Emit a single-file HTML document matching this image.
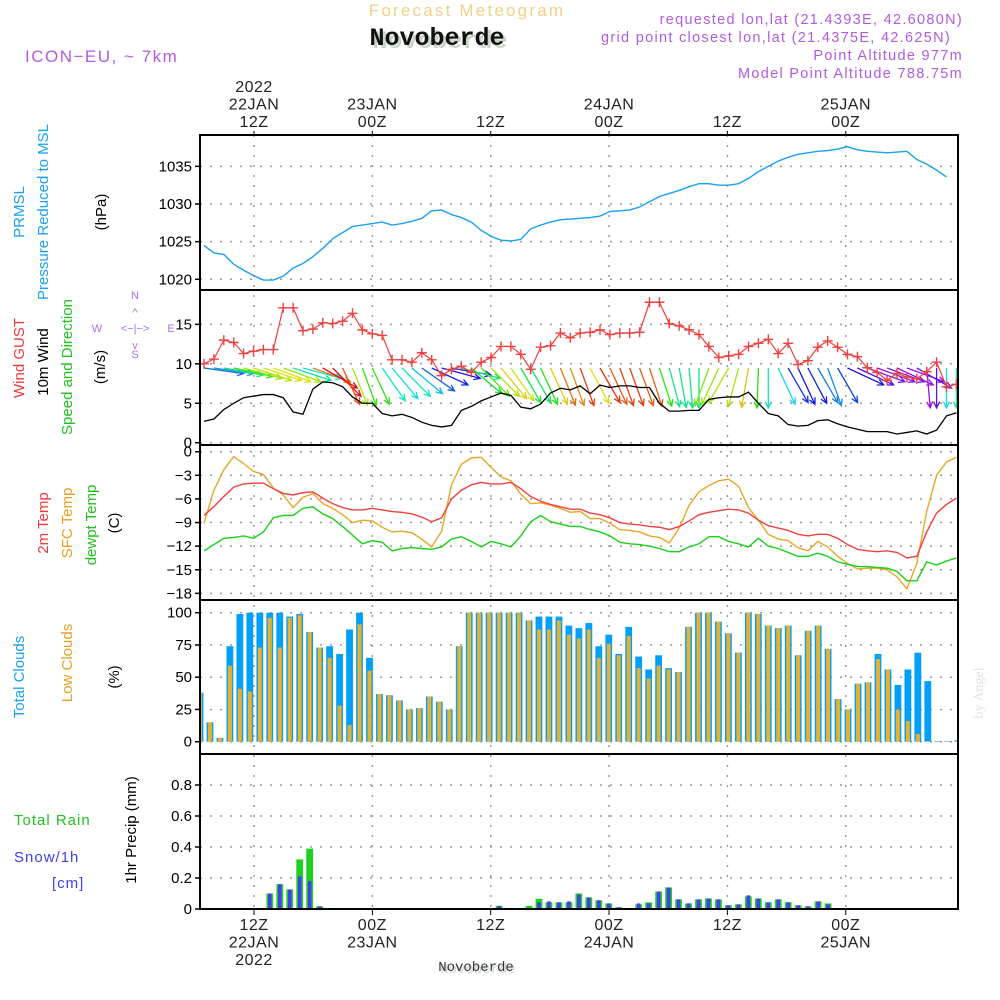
<!DOCTYPE html>
<html><head><meta charset="utf-8">
<style>
html,body{margin:0;padding:0;background:#fff;}
svg{display:block;font-family:"Liberation Sans",sans-serif;}
</style></head>
<body>
<svg id="chart" width="1000" height="1000" viewBox="0 0 1000 1000" xmlns="http://www.w3.org/2000/svg">
<g>
<text x="467" y="16" font-size="17" fill="#f3cf86" text-anchor="middle" letter-spacing="2.2">Forecast Meteogram</text>
<text x="440" y="48" font-size="25" font-weight="bold" fill="#c8d8c8" text-anchor="middle" font-family="Liberation Mono, monospace">Novoberde</text>
<text x="437" y="45" font-size="25" font-weight="bold" fill="#111" text-anchor="middle" font-family="Liberation Mono, monospace">Novoberde</text>
<text x="25" y="62" font-size="17" fill="#b05ce0" letter-spacing="1.5">ICON−EU, ~ 7km</text>
<text x="963" y="24" font-size="14.5" fill="#b05ce0" text-anchor="end" letter-spacing="1.3">requested lon,lat (21.4393E, 42.6080N)</text>
<text x="951" y="42" font-size="14.5" fill="#b05ce0" text-anchor="end" letter-spacing="1.3">grid point closest lon,lat (21.4375E, 42.625N)</text>
<text x="963" y="60" font-size="14.5" fill="#b05ce0" text-anchor="end" letter-spacing="1.3">Point Altitude 977m</text>
<text x="963" y="78" font-size="14.5" fill="#b05ce0" text-anchor="end" letter-spacing="1.3">Model Point Altitude 788.75m</text>
</g>
<g font-size="15">
<text transform="translate(24,212) rotate(-90)" text-anchor="middle" fill="#1aa0f0">PRMSL</text>
<text transform="translate(48,212) rotate(-90)" text-anchor="middle" fill="#1aa0f0">Pressure Reduced to MSL</text>
<text transform="translate(106,212) rotate(-90)" text-anchor="middle" fill="#000">(hPa)</text>
<text transform="translate(24,358) rotate(-90)" text-anchor="middle" fill="#f03a3a">Wind GUST</text>
<text transform="translate(48,362) rotate(-90)" text-anchor="middle" fill="#000">10m Wind</text>
<text transform="translate(72,367) rotate(-90)" text-anchor="middle" fill="#20c020">Speed and Direction</text>
<text transform="translate(105,367) rotate(-90)" text-anchor="middle" fill="#000">(m/s)</text>
<g fill="#b070e0" font-size="11" text-anchor="middle">
<text x="97" y="332">W</text><text x="171" y="332">E</text><text x="135" y="299">N</text><text x="135" y="358">S</text>
<text x="135" y="332">&lt;−|−&gt;</text>
<text x="135" y="316">^</text><text x="135" y="349">v</text>
</g>
<text transform="translate(48,523) rotate(-90)" text-anchor="middle" fill="#f03a3a">2m Temp</text>
<text transform="translate(72,523) rotate(-90)" text-anchor="middle" fill="#e8a020">SFC Temp</text>
<text transform="translate(96,525) rotate(-90)" text-anchor="middle" fill="#20c020">dewpt Temp</text>
<text transform="translate(119,523) rotate(-90)" text-anchor="middle" fill="#000">(C)</text>
<text transform="translate(24,677) rotate(-90)" text-anchor="middle" fill="#1aa0f0">Total Clouds</text>
<text transform="translate(72,663) rotate(-90)" text-anchor="middle" fill="#e8a020">Low Clouds</text>
<text transform="translate(119,677) rotate(-90)" text-anchor="middle" fill="#000">(%)</text>
<text x="14" y="825" fill="#20c020" letter-spacing="1">Total  Rain</text>
<text x="14" y="862" fill="#4040f0" letter-spacing="1">Snow/1h</text>
<text x="52" y="888" fill="#4040f0" letter-spacing="1">[cm]</text>
<text transform="translate(136,830) rotate(-90)" text-anchor="middle" fill="#000">1hr Precip (mm)</text>
</g>
<text transform="translate(983,693) rotate(-90)" text-anchor="middle" font-size="14" fill="#dde4dd" font-family="Liberation Serif, serif">by Angel</text>
<text x="478" y="973" font-size="14" fill="#c8d8c8" text-anchor="middle" font-family="Liberation Mono, monospace">Novoberde</text>
<text x="476" y="971" font-size="14" fill="#333" text-anchor="middle" font-family="Liberation Mono, monospace">Novoberde</text>
<g id="plots"></g>
</svg>
<script>
// ---------- data ----------
const timeTop = [["2022","22JAN","12Z"],["","23JAN","00Z"],["","","12Z"],["","24JAN","00Z"],["","","12Z"],["","25JAN","00Z"]];
const timeBottom = [["12Z","22JAN","2022"],["00Z","23JAN",""],["12Z","",""],["00Z","24JAN",""],["12Z","",""],["00Z","25JAN",""]];
const pressTicks = [1020,1025,1030,1035];
const windTicks = [0,5,10,15];
const tempTicks = [0,-3,-6,-9,-12,-15,-18];
const cloudTicks = [0,25,50,75,100];
const precipTicks = [0,0.2,0.4,0.6,0.8];
const pressure = [1024.5,1023.5,1023.3,1022,1021.2,1020.5,1019.9,1019.9,1020.4,1021.5,1022.1,1023,1024.1,1025.4,1026.2,1027,1027.2,1027.4,1027.6,1027.2,1027.4,1027.7,1028.1,1029.1,1029.2,1028.6,1028.2,1027.6,1026.5,1025.7,1025.2,1025.1,1025.3,1026.7,1027.2,1027.6,1027.9,1028,1028.1,1028.2,1028.4,1029.0,1029.1,1029.2,1029.6,1030.3,1031.0,1031.4,1031.8,1032.3,1032.7,1032.7,1032.5,1032.5,1032.7,1033.4,1034.3,1035,1035.7,1036.2,1036.6,1036.8,1037,1037.1,1037.3,1037.6,1037.2,1037,1036.9,1036.8,1036.9,1037,1035.9,1035.3,1034.5,1033.6];
const gust = [10.0,10.6,13.0,12.7,11.3,11.6,11.8,11.8,17.1,17.1,14.2,14.4,15.2,15.1,15.4,16.4,14.3,13.8,13.6,10.5,10.5,10.2,11.4,10.5,8.5,9.3,9.7,8.9,10.2,10.8,12.2,12.2,11.2,9.3,12.1,12.3,13.9,13.3,13.9,14.0,14.3,13.7,13.9,13.9,14.0,17.8,17.8,15.1,14.8,14.3,13.7,12.2,10.8,11.0,11.2,12.2,12.6,13.1,11.3,12.6,9.9,10.4,12.1,12.9,12.1,11.2,10.9,9.5,8.9,7.9,8.8,8.3,8.1,9.0,10.2,7.1,7.4];
const windSpeed = [2.7,3.0,4.2,5.0,5.7,5.9,6.1,6.1,5.7,3.9,3.6,6.8,7.7,7.6,7.1,5.8,5.0,5.0,3.7,3.4,3.6,3.2,2.6,2.2,2.0,2.2,4.1,4.6,5.3,5.8,6.3,6.0,4.5,4.3,4.9,6.3,6.9,6.7,7.2,6.2,7.3,7.0,7.2,7.2,7.0,7.0,5.0,4.0,4.0,4.1,4.1,5.5,5.7,5.8,5.8,6.4,5.0,3.7,3.4,2.3,2.1,2.2,2.8,2.9,2.4,2.0,1.7,1.4,1.4,1.4,1.1,1.3,1.5,1.1,1.6,3.4,3.8];
const windDir = [8,8,10,12,15,18,18,20,20,18,15,20,30,45,65,68,70,65,55,50,45,40,35,25,15,10,15,40,45,45,50,55,60,60,65,65,68,70,70,62,60,65,70,70,70,72,72,75,80,85,90,110,115,120,105,100,92,90,65,60,65,62,60,70,60,25,25,20,20,20,25,20,30,85,90,90,90];
const temp2m = [-8.1,-7.0,-5.7,-4.5,-4.1,-4.0,-4.0,-4.7,-5.3,-5.5,-5.2,-5.1,-5.9,-6.6,-7.1,-7.4,-7.4,-7.2,-7.4,-7.6,-7.7,-7.9,-8.3,-8.9,-8.4,-6.0,-4.9,-4.2,-3.9,-4.1,-4.1,-3.9,-4.7,-5.7,-6.3,-6.7,-7.0,-7.3,-7.3,-7.8,-8.0,-8.4,-9.0,-9.2,-9.3,-9.5,-9.6,-9.9,-9.5,-8.8,-8.0,-7.7,-7.5,-7.3,-7.4,-7.8,-8.7,-9.4,-9.7,-10.0,-10.5,-10.7,-10.5,-10.5,-11.0,-11.8,-12.4,-12.6,-12.7,-12.6,-12.8,-13.5,-13.3,-10.2,-7.8,-6.7,-5.9];
const tempSfc = [-9.1,-4.9,-2.3,-0.6,-1.5,-2.5,-2.9,-4.6,-5.5,-7.1,-5.8,-5.3,-6.6,-7.2,-8.0,-9.0,-8.7,-8.8,-9.6,-10.2,-10.1,-10.3,-11.1,-12.1,-10.1,-4.2,-1.6,-0.8,-0.7,-2.0,-3.2,-3.7,-5.4,-6.6,-6.5,-6.8,-7.2,-7.7,-7.6,-8.5,-8.5,-9.1,-9.9,-10.0,-10.2,-10.7,-10.9,-11.6,-9.7,-6.8,-5.1,-4.3,-3.7,-3.5,-4.4,-7.1,-8.7,-10.5,-11.1,-11.3,-12.2,-12.6,-11.4,-12.1,-13.3,-14.2,-14.9,-14.8,-14.8,-15.0,-15.9,-17.4,-14.2,-7.6,-3.0,-1.3,-0.7];
const dewpt = [-12.6,-11.8,-11.0,-10.9,-10.7,-11.0,-10.2,-8.4,-8.1,-8.1,-7.2,-7.0,-7.9,-8.5,-9.5,-10.6,-11.7,-11.3,-11.5,-12.6,-12.3,-12.2,-12.3,-12.4,-12.1,-11.1,-10.8,-11.4,-12.1,-11.4,-11.7,-12.1,-10.7,-8.9,-8.1,-8.9,-9.2,-9.5,-9.5,-9.9,-10.2,-10.7,-11.5,-11.7,-11.8,-12.0,-12.3,-12.7,-12.7,-12.1,-11.7,-10.8,-10.8,-11.4,-11.7,-12.1,-11.0,-12.0,-12.3,-12.8,-13.3,-13.3,-12.9,-13.3,-14.0,-14.3,-14.6,-14.6,-14.7,-14.8,-15.2,-16.4,-16.4,-14.0,-14.4,-13.9,-13.5];
const totalClouds = [38,15,3,74,99,100,100,100,100,97,99,85,73,74,68,87,100,65,37,36,32,25,26,35,31,25,74,100,100,100,100,100,100,94,97,97,97,90,88,92,74,83,68,89,66,56,67,57,54,89,100,100,93,84,69,100,99,90,88,90,67,86,90,72,33,25,45,46,68,56,44,56,69,47,0.5,0.5,1];
const lowClouds = [38,15,3,59,41,39,73,96,73,96,98,85,73,65,28,13,91,55,37,36,32,25,26,35,31,25,74,100,100,100,100,100,100,94,87,87,94,83,80,87,65,76,67,82,57,49,59,56,54,89,100,100,93,84,69,100,99,90,88,90,67,86,90,72,33,25,45,46,64,56,25,16,6,0.5,0.5,0.5,0.5];
const totalPrecip = [0,0,0,0,0,0,0,0.10,0.16,0.126,0.32,0.39,0.017,0,0,0,0,0,0,0,0,0,0,0,0,0,0,0,0,0,0.02,0,0,0.02,0.066,0.043,0.043,0.043,0.10,0.075,0.056,0.036,0.011,0.004,0.03,0.043,0.113,0.139,0.062,0.036,0.062,0.068,0.062,0.024,0.03,0.081,0.068,0.043,0.062,0.043,0.024,0.017,0.049,0.036,0.004,0,0,0,0,0,0,0,0,0,0,0,0];
const snowPrecip = [0,0,0,0,0,0,0,0.10,0.16,0.126,0.21,0.18,0.017,0,0,0,0,0,0,0,0,0,0,0,0,0,0,0,0,0,0.02,0,0,0.005,0.043,0.049,0.043,0.049,0.094,0.075,0.056,0.036,0.011,0.004,0.036,0.036,0.113,0.139,0.062,0.036,0.062,0.068,0.062,0.024,0.03,0.088,0.068,0.043,0.062,0.043,0.024,0.017,0.049,0.03,0.004,0,0,0,0,0,0,0,0,0,0,0,0];

// ---------- axes ----------
const X0 = 200, X1 = 958;
const panels = [{top:135,bot:290},{top:290,bot:445},{top:445,bot:600},{top:600,bot:754},{top:754,bot:909}];
const xGrid = k => 254 + k*118.35;
const xLine = i => 204 + i*9.9;
const xBar = i => 200 + i*9.97;
const yPress = p => 204 - (p-1030)*7.53;
const yWind = v => 442.7 - v*7.89;
const yTemp = t => 451.7 - t*7.87;
const yCloud = c => 741.7 - c*1.29;
const yPrecip = m => 909 - m*155;

const NS = "http://www.w3.org/2000/svg";
const root = document.getElementById('plots');
function mk(tag, attrs, parent){ const e=document.createElementNS(NS,tag); for(const k in attrs) e.setAttribute(k,attrs[k]); (parent||root).appendChild(e); return e; }

// clip
const defs = mk('defs',{});
const cp = mk('clipPath',{id:'plotclip'},defs);
mk('rect',{x:X0,y:135,width:X1-X0,height:774},cp);

// grid
const grid = mk('g',{stroke:'#9a9a9a','stroke-width':1.5,'stroke-dasharray':'2 8'});


for(let k=0;k<timeTop.length;k++){ const l=mk('line',{x1:xGrid(k),x2:xGrid(k),y1:135,y2:909},grid); }
function hgrid(ticks, fy, name, fmt, pTop, pBot){
  const g = mk('g',{});
  
  
  ticks.forEach(t=>{
    const y = fy(t);
    mk('line',{x1:X0,x2:X1,y1:y,y2:y,stroke:'#9a9a9a','stroke-width':1.5,'stroke-dasharray':'2 8'},g);
    mk('line',{x1:X0-5,x2:X0,y1:y,y2:y,stroke:'#000','stroke-width':1.5},g);
    const tx = mk('text',{x:X0-8,y:y+5,'font-size':15,'text-anchor':'end',fill:'#000'},g);
    tx.textContent = fmt(t);
  });
}
hgrid(pressTicks, yPress, 'pressure-y-axis', t=>String(t));
hgrid(windTicks, yWind, 'wind-y-axis', t=>String(t));
hgrid(tempTicks, yTemp, 'temp-y-axis', t=>t<0?'−'+(-t):String(t));
hgrid(cloudTicks, yCloud, 'cloud-y-axis', t=>String(t));
hgrid(precipTicks, yPrecip, 'precip-y-axis', t=>t===0?'0':t.toFixed(1));

// time labels
const tl = mk('g',{'font-size':16,'text-anchor':'middle',fill:'#222','letter-spacing':'0.5'});


timeTop.forEach((arr,k)=>{
  arr.forEach((s,j)=>{ if(s){ const t=mk('text',{x:xGrid(k),y:92+j*17.5},tl); t.textContent=s; } });
  mk('line',{x1:xGrid(k),x2:xGrid(k),y1:131,y2:135,stroke:'#000'},tl);
});
timeBottom.forEach((arr,k)=>{
  arr.forEach((s,j)=>{ if(s){ const t=mk('text',{x:xGrid(k),y:930+j*17.5},tl); t.textContent=s; } });
  mk('line',{x1:xGrid(k),x2:xGrid(k),y1:909,y2:915,stroke:'#000'},tl);
});

const data = mk('g',{'clip-path':'url(#plotclip)'});



function poly(arr, fy, color, name, w){
  const p = mk('polyline',{points:arr.map((v,i)=>xLine(i)+','+fy(v)).join(' '),fill:'none',stroke:color,'stroke-width':w||1.4},data);
  
  
  return p;
}
// pressure
poly(pressure, yPress, '#1aa0f0', 'pressure-line');

// wind arrows
function speedColor(v){ let t=(v-1.2)/6.3; t=Math.max(0,Math.min(1,t)); return 'hsl('+(280-t*280)+',85%,48%)'; }
const arrows = mk('g',{'stroke-width':1.3,fill:'none'},data);


windDir.forEach((d,i)=>{
  const x=xLine(i), y=368, L=40, a=d*Math.PI/180;
  const ex=x+L*Math.cos(a), ey=y+L*Math.sin(a);
  const h=7, b1=a+Math.PI-0.45, b2=a+Math.PI+0.45;
  const c = speedColor(windSpeed[i]);
  const p = mk('path',{d:`M${x},${y}L${ex},${ey}M${ex+h*Math.cos(b1)},${ey+h*Math.sin(b1)}L${ex},${ey}L${ex+h*Math.cos(b2)},${ey+h*Math.sin(b2)}`,stroke:c},arrows);
  
  
});
// gust
poly(gust, yWind, '#f04040', 'gust-line', 1.2);
const gm = mk('g',{stroke:'#f04040','stroke-width':1.4},data);


gust.forEach((v,i)=>{
  const x=xLine(i), y=yWind(v);
  const p=mk('path',{d:`M${x-5},${y}H${x+5}M${x},${y-5}V${y+5}`},gm);
  
  
});
poly(windSpeed, yWind, '#000', 'wind-speed-line', 1.3);

// temps
poly(tempSfc, yTemp, '#e8a628', 'sfc-temp-line');
poly(temp2m, yTemp, '#f04040', 'temp-2m-line');
poly(dewpt, yTemp, '#18d018', 'dewpt-line');

// clouds
const cb = mk('g',{},data);


totalClouds.forEach((v,i)=>{
  const x=xBar(i);
  const r=mk('rect',{x:x-3.4,y:yCloud(v),width:6.8,height:yCloud(0)-yCloud(v),fill:'#00a0f8'},cb);
  
  
  const lv=lowClouds[i];
  const r2=mk('rect',{x:x-2,y:yCloud(lv),width:4,height:yCloud(0)-yCloud(lv),fill:'#e8b030'},cb);
  
  
});
// precip
const pb = mk('g',{},data);


totalPrecip.forEach((v,i)=>{
  if(v<=0 && snowPrecip[i]<=0) return;
  const x=xBar(i);
  const r=mk('rect',{x:x-3.4,y:yPrecip(v),width:6.8,height:yPrecip(0)-yPrecip(v),fill:'#20d020'},pb);
  
  
  const s=snowPrecip[i];
  const r2=mk('rect',{x:x-1.8,y:yPrecip(s),width:3.6,height:yPrecip(0)-yPrecip(s),fill:'#4040f0'},pb);
  
  
});

// frames
const fr = mk('g',{fill:'none',stroke:'#000','stroke-width':2});


panels.forEach(p=>{ mk('rect',{x:X0,y:p.top,width:X1-X0,height:p.bot-p.top},fr); });
</script>
</body></html>
